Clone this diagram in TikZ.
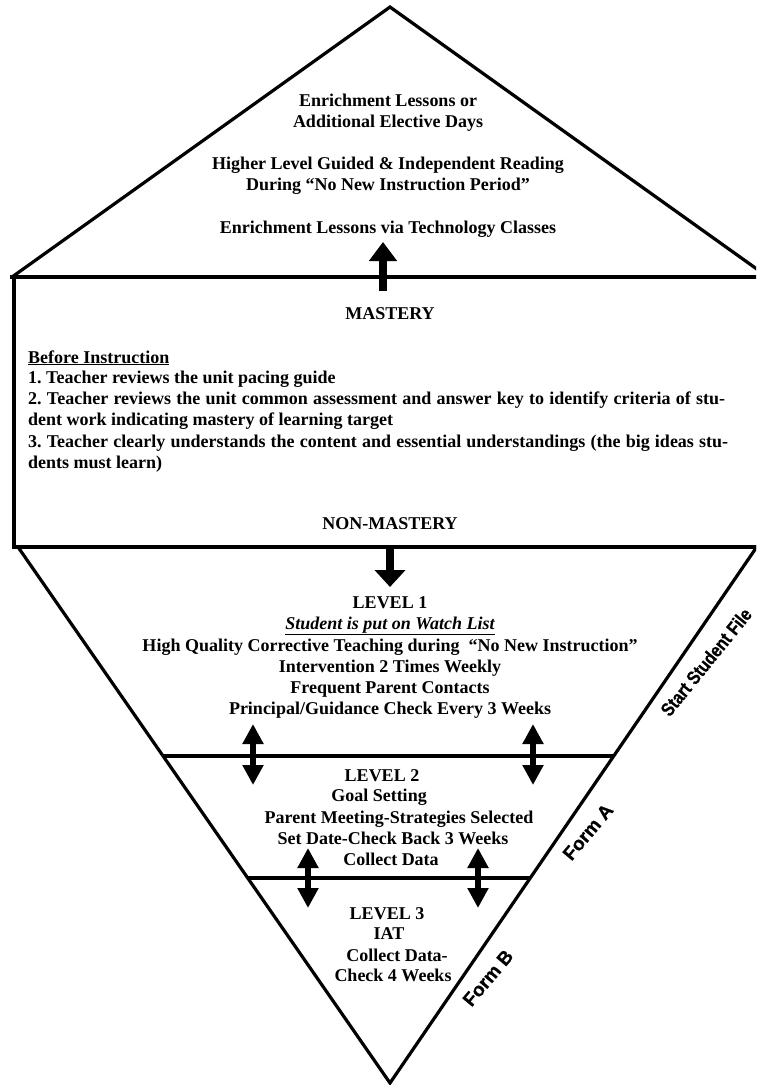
\documentclass[tikz,border=0pt]{standalone}
\usepackage{fontspec}
\setmainfont{Liberation Serif}
\newfontfamily\ssfont[FakeStretch=0.84,FakeBold=0.6]{Liberation Sans Bold}
\newfontfamily\formfont[FakeBold=0.6]{Liberation Sans Bold}
\usetikzlibrary{arrows.meta,calc}
\frenchspacing
\begin{document}
\begin{tikzpicture}[x=1pt,y=-1pt,
  txt/.style={font=\fontsize{18}{21}\selectfont\bfseries, inner sep=0pt, anchor=base},
  ltxt/.style={txt, anchor=base west},
  rotss/.style={font=\ssfont\fontsize{19}{20}\selectfont, inner sep=0pt, anchor=center, rotate=51},
  rotform/.style={font=\formfont\fontsize{19}{20}\selectfont, inner sep=0pt, anchor=center, rotate=50},
  side/.style={line width=3.2pt, line join=miter},
  bigup/.style={line width=8pt, -{Triangle[width=27pt,length=19pt]}},
  bigdown/.style={line width=7.7pt, -{Triangle[width=30pt,length=17pt]}},
  dbl/.style={line width=5.5pt, {Triangle[width=20pt,length=20pt]}-{Triangle[width=20pt,length=20pt]}}
]
\useasboundingbox (0,0) rectangle (756,1085);
\clip (0,0) rectangle (756,1085);
\fill[white] (0,0) rectangle (756,1085);

% top triangle
\coordinate (tA) at (390,7);
\coordinate (tL) at (12,277);
\coordinate (tR) at (768,277);
\draw[side] (tL) -- (tA) -- (tR);

% box
\coordinate (bxTL) at (14,277);
\coordinate (bxBL) at (14,547);
\coordinate (bxTR) at (762,277);
\coordinate (bxBR) at (762,547);
\draw[line width=3.4pt] (10,277) -- (bxTR);
\draw[line width=3.4pt] (bxTL) -- (bxBL);
\draw[line width=4.6pt] (12,547) -- (bxBR);

% bottom inverted triangle
\coordinate (bL) at (18,547);
\coordinate (bA) at (390,1083);
\coordinate (bR) at (761.5,540);
\draw[side] (bL) -- (bA) -- (bR);

% level separators
\coordinate (l2L) at (163,756);
\coordinate (l2R) at (614,756);
\coordinate (l3L) at (248,878);
\coordinate (l3R) at (530,878);
\draw[line width=3.5pt] (l2L) -- (l2R);
\draw[line width=3.5pt] (l3L) -- (l3R);

% arrows
\coordinate (upS) at (383,291);
\coordinate (upE) at (383,242);
\draw[bigup] (upS) -- (upE);
\coordinate (dnS) at (390,547);
\coordinate (dnE) at (390,587);
\draw[bigdown] (dnS) -- (dnE);
\coordinate (d1a) at (253,724); \coordinate (d1b) at (253,785);
\coordinate (d2a) at (533,724); \coordinate (d2b) at (533,785);
\coordinate (d3a) at (308,848); \coordinate (d3b) at (308,908);
\coordinate (d4a) at (478,848); \coordinate (d4b) at (478,908);
\draw[dbl] (d1a) -- (d1b);
\draw[dbl] (d2a) -- (d2b);
\draw[dbl] (d3a) -- (d3b);
\draw[dbl] (d4a) -- (d4b);

% top triangle text
\node[txt] (e1) at (388,106) {Enrichment Lessons or};
\node[txt] (e2) at (388,127) {Additional Elective Days};
\node[txt] (e3) at (388,169) {Higher Level Guided \& Independent Reading};
\node[txt] (e4) at (388,190) {During “No New Instruction Period”};
\node[txt] (e5) at (388,233) {Enrichment Lessons via Technology Classes};

% box text
\node[txt] (mast) at (390,319) {MASTERY};
\node[ltxt] (bi) at (28,363) {\underline{Before Instruction}};
\node[ltxt] (b1) at (28,383) {1. Teacher reviews the unit pacing guide};
\node[ltxt] (b2) at (28,404) {\makebox[697pt][s]{2. Teacher reviews the unit common assessment and answer key to identify criteria of stu-}};
\node[ltxt] (b3) at (28,425) {dent work indicating mastery of learning target};
\node[ltxt] (b4) at (28,447) {\makebox[700pt][s]{3. Teacher clearly understands the content and essential understandings (the big ideas stu-}};
\node[ltxt] (b5) at (28,468) {dents must learn)};
\node[txt] (nmast) at (390,529) {NON-MASTERY};

% level 1
\node[txt] (a1) at (390,608) {LEVEL 1};
\node[txt] (a2) at (390,629) {\underline{\itshape Student is put on Watch List}};
\node[txt] (a3) at (390,651) {High Quality Corrective Teaching during \ “No New Instruction”};
\node[txt] (a4) at (390,672) {Intervention 2 Times Weekly};
\node[txt] (a5) at (390,693) {Frequent Parent Contacts};
\node[txt] (a6) at (390,714) {Principal/Guidance Check Every 3 Weeks};

% level 2
\node[txt] (c1) at (382,781) {LEVEL 2};
\node[txt] (c2) at (379,801) {Goal Setting};
\node[txt] (c3) at (399,823) {Parent Meeting-Strategies Selected};
\node[txt] (c4) at (393,844) {Set Date-Check Back 3 Weeks};
\node[txt] (c5) at (391,865) {Collect Data};

% level 3
\node[txt] (f1) at (387,919) {LEVEL 3};
\node[txt] (f2) at (389,939) {IAT};
\node[txt] (f3) at (397,961) {Collect Data-};
\node[txt] (f4) at (393,981) {Check 4 Weeks};

% rotated labels
\node[rotss] (ssf) at (706,662) {Start Student File};
\node[rotform] (fa) at (588,832) {Form A};
\node[rotform] (fb) at (488,978) {Form B};
\end{tikzpicture}
\end{document}
